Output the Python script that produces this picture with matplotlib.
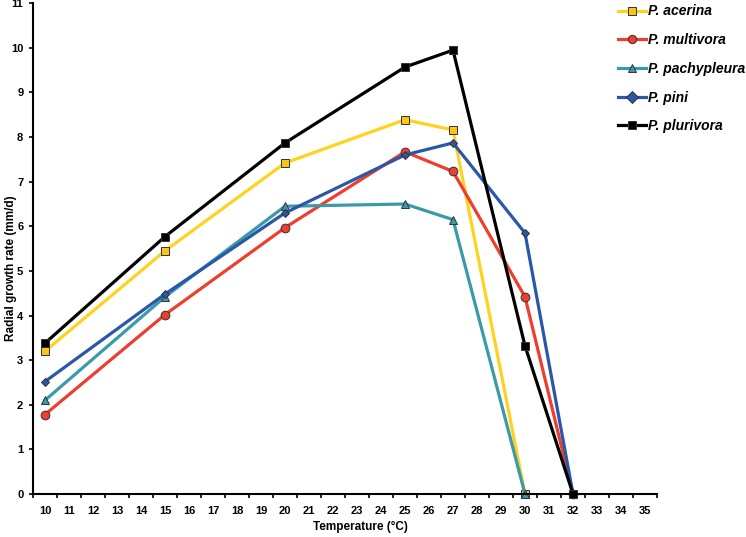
import matplotlib.pyplot as plt

temps = [10, 15, 20, 25, 27, 30, 32]
acerina = [3.2, 5.45, 7.42, 8.39, 8.16, 0.0]
multivora = [1.78, 4.02, 5.97, 7.67, 7.23, 4.42, 0.0]
pachypleura = [2.1, 4.42, 6.45, 6.5, 6.15, 0.0]
pini = [2.52, 4.48, 6.3, 7.6, 7.87, 5.85, 0.0]
plurivora = [3.38, 5.77, 7.87, 9.57, 9.95, 3.32, 0.0]

x_labels = list(range(10, 36))
y_ticks = list(range(0, 12))

plt.rcParams["font.family"] = ["Liberation Sans", "DejaVu Sans"]

fig = plt.figure(figsize=(7.46, 5.37), dpi=100)
ax = fig.add_axes([0.0442, 0.0801, 0.8365, 0.9138])

series = [
    ("P. acerina", acerina, "#FFD21F", "#F7C51C", "s"),
    ("P. multivora", multivora, "#EE3F2E", "#EE3F2E", "o"),
    ("P. pachypleura", pachypleura, "#3A9AAB", "#3A9AAB", "^"),
    ("P. pini", pini, "#2B57A8", "#2B57A8", "D"),
    ("P. plurivora", plurivora, "#000000", "#000000", "s"),
]
for name, vals, col, fill, mk in series:
    ms = 4.5 if mk == "D" else 6.3
    ax.plot(temps[:len(vals)], vals, color=col, lw=2.3, marker=mk, ms=ms,
            mfc=fill, mec="#333333", mew=0.7, label=name, clip_on=False)

ax.set_xlim(9.5, 35.5)
ax.set_ylim(0, 11)
ax.set_xticks([v - 0.5 for v in x_labels] + [35.5])
ax.set_xticks(x_labels, minor=True)
ax.set_xticklabels([])
ax.set_xticklabels([str(v) for v in x_labels], minor=True,
                   fontweight="bold", fontsize=8)
ax.tick_params(axis="x", which="major", direction="out", length=3, width=1.2)
ax.tick_params(axis="x", which="minor", length=0, pad=9)
ax.set_yticks(y_ticks)
ax.set_yticklabels([str(v) for v in y_ticks], fontweight="bold", fontsize=8)
ax.tick_params(axis="y", direction="out", length=3, width=1.2, pad=4)

for s in ["top", "right"]:
    ax.spines[s].set_visible(False)
for s in ["left", "bottom"]:
    ax.spines[s].set_linewidth(1.5)

ax.set_xlabel("Temperature (°C)", fontweight="bold", fontsize=8.5)
ax.xaxis.set_label_coords(0.524, -0.055)
ax.set_ylabel("Radial growth rate (mm/d)", fontweight="bold", fontsize=8.5)
ax.yaxis.set_label_coords(-0.026, 0.46)

leg = fig.legend(loc="upper left", bbox_to_anchor=(0.812, 1.015), frameon=False,
                 prop={"weight": "bold", "style": "italic", "size": 10},
                 handlelength=2.0, handletextpad=0.15, labelspacing=1.06)
for h in leg.legend_handles:
    h.set_markersize(6)

fig.savefig("out.png", dpi=100)
